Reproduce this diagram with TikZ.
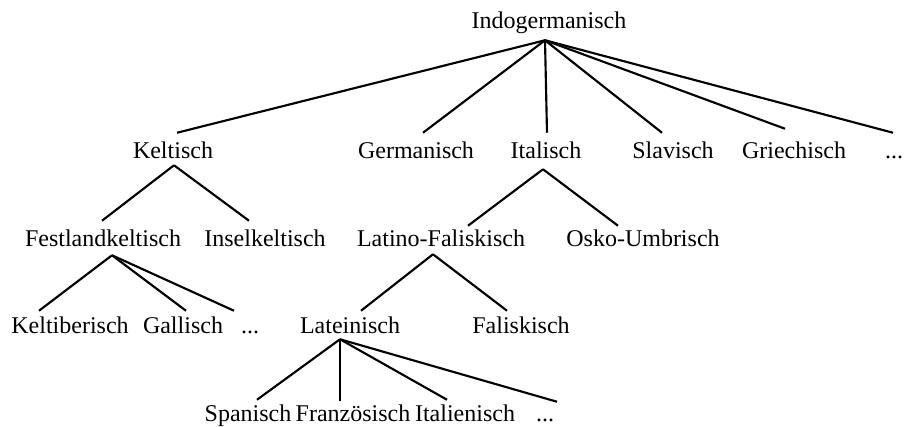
\documentclass[tikz,border=0pt]{standalone}
\usepackage{fontspec}
\setmainfont{Liberation Serif}
\usetikzlibrary{calc}

\begin{document}
\begin{tikzpicture}[x=0.75pt, y=-0.75pt]
        \tikzstyle{lang}=[anchor=base,inner xsep=0pt,inner ysep=4pt,text height=14.75pt,text depth=2.75pt,font=\fontsize{18}{22}\selectfont]
        \tikzstyle{branch}=[line width=1.6pt]
        \useasboundingbox (0,0) rectangle (906,426);

        \node[lang] (indo) at (549,28) {Indogermanisch};

        \node[lang] (kelt) at (173,158) {Keltisch};
        \node[lang] (germ) at (416,158) {Germanisch};
        \node[lang] (ital) at (546,158) {Italisch};
        \node[lang] (slav) at (673,158) {Slavisch};
        \node[lang] (griech) at (794,158) {Griechisch};
        \node[lang] (dotsA) at (894,158) {...};

        \node[lang] (festl) at (103,246) {Festlandkeltisch};
        \node[lang] (insel) at (265,246) {Inselkeltisch};
        \node[lang] (latfal) at (441,246) {Latino-Faliskisch};
        \node[lang] (osko) at (643,246) {Osko-Umbrisch};

        \node[lang] (keltib) at (70,333) {Keltiberisch};
        \node[lang] (gall) at (183,333) {Gallisch};
        \node[lang] (dotsB) at (250,333) {...};
        \node[lang] (latein) at (350,333) {Lateinisch};
        \node[lang] (falisk) at (521,333) {Faliskisch};

        \node[lang] (span) at (248,421) {Spanisch};
        \node[lang] (franz) at (353,421) {Französisch};
        \node[lang] (italien) at (465,421) {Italienisch};
        \node[lang] (dotsC) at (545,421) {...};

        \draw[branch] ($(indo.south)+(-4,3)$) -- ($(kelt.north)+(4,0)$);
        \draw[branch] ($(indo.south)+(-4,3)$) -- ($(germ.north)+(7,0)$);
        \draw[branch] ($(indo.south)+(-4,3)$) -- ($(ital.north)+(1,0)$);
        \draw[branch] ($(indo.south)+(-4,3)$) -- ($(slav.north)+(-11,0)$);
        \draw[branch] ($(indo.south)+(-4,3)$) -- ($(griech.north)+(-9,-4)$);
        \draw[branch] ($(indo.south)+(-4,3)$) -- ($(dotsA.north)+(-1,0)$);

        \draw[branch] ($(kelt.south)+(1,-2)$) -- ($(festl.north)+(-1,0)$);
        \draw[branch] ($(kelt.south)+(1,-2)$) -- ($(insel.north)+(-16,0)$);
        \draw[branch] ($(ital.south)+(-3,2)$) -- ($(latfal.north)+(27,5)$);
        \draw[branch] ($(ital.south)+(-3,2)$) -- ($(osko.north)+(-25,5)$);

        \draw[branch] ($(festl.south)+(9,0)$) -- ($(keltib.north)+(-31,3)$);
        \draw[branch] ($(festl.south)+(9,0)$) -- ($(gall.north)+(3,3)$);
        \draw[branch] ($(festl.south)+(9,0)$) -- ($(dotsB.north)+(-16,3)$);
        \draw[branch] ($(latfal.south)+(-8,-1)$) -- ($(latein.north)+(11,3)$);
        \draw[branch] ($(latfal.south)+(-8,-1)$) -- ($(falisk.north)+(-14,3)$);

        \draw[branch] ($(latein.south)+(-10,-3)$) -- ($(span.north)+(9,4)$);
        \draw[branch] ($(latein.south)+(-10,-3)$) -- ($(franz.north)+(-13,5)$);
        \draw[branch] ($(latein.south)+(-10,-3)$) -- ($(italien.north)+(-18,4)$);
        \draw[branch] ($(latein.south)+(-10,-3)$) -- ($(dotsC.north)+(12,6)$);
\end{tikzpicture}
\end{document}
